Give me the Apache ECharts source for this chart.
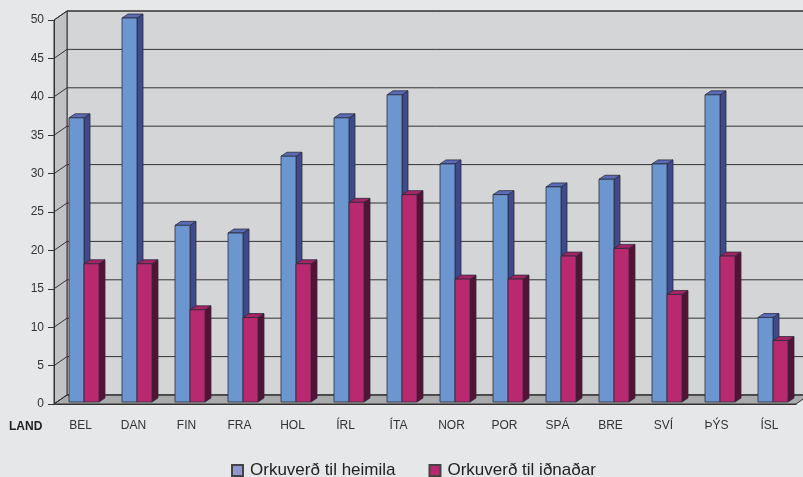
<!DOCTYPE html>
<html>
<head>
<meta charset="utf-8">
<script src="https://cdn.jsdelivr.net/npm/echarts@6/dist/echarts.min.js"></script>
<style>
  html, body { margin: 0; padding: 0; background: #e6e7e8; }
  #chart { width: 803px; height: 477px; }
</style>
</head>
<body>
<div id="chart"></div>
<script>
var categories = ['BEL', 'DAN', 'FIN', 'FRA', 'HOL', 'ÍRL', 'ÍTA', 'NOR', 'POR', 'SPÁ', 'BRE', 'SVÍ', 'ÞÝS', 'ÍSL'];
var heimila = [37, 50, 23, 22, 32, 37, 40, 31, 27, 28, 29, 31, 40, 11];
var idnadar = [18, 18, 12, 11, 18, 26, 27, 16, 16, 19, 20, 14, 19, 8];
var yMin = 0, yMax = 50, yStep = 5;

var FONT = '"Liberation Sans", Arial, sans-serif';
// 3d depth of the walls / bars
var WDX = 13, WDY = -9;
var BDX = 6, BDY = -4;

function renderWalls(params, api) {
    var cs = params.coordSys;
    var x0 = cs.x, x1 = cs.x + cs.width;
    var yTop = cs.y, yBot = cs.y + cs.height;
    var kids = [];
    // back wall
    kids.push({
        type: 'rect',
        shape: { x: x0 + WDX, y: yTop + WDY, width: cs.width, height: cs.height },
        style: { fill: '#d4d5d6', stroke: '#333', lineWidth: 1 }
    });
    // side wall
    kids.push({
        type: 'polygon',
        shape: { points: [[x0, yBot], [x0 + WDX, yBot + WDY], [x0 + WDX, yTop + WDY], [x0, yTop]] },
        style: { fill: '#c1c2c4', stroke: '#333', lineWidth: 1 }
    });
    // floor
    kids.push({
        type: 'polygon',
        shape: { points: [[x0, yBot], [x1, yBot], [x1 + WDX, yBot + WDY], [x0 + WDX, yBot + WDY]] },
        style: { fill: '#a9aaab', stroke: '#333', lineWidth: 1 }
    });
    // grid lines
    for (var v = yMin; v <= yMax; v += yStep) {
        var y = api.coord([0, v])[1];
        kids.push({
            type: 'polyline',
            shape: { points: [[x0, y], [x0 + WDX, y + WDY], [x1 + WDX, y + WDY]] },
            style: { fill: null, stroke: '#333', lineWidth: 1 }
        });
    }
    return { type: 'group', children: kids };
}

function barRenderer(offset, front, top, side) {
    return function (params, api) {
        var p = api.coord([api.value(0), api.value(1)]);
        var b = api.coord([api.value(0), 0]);
        var xa = p[0] + offset, xb = xa + 15;
        var yt = p[1] - 2, yb = b[1] - 2;
        var edge = { stroke: '#2b2b3a', lineWidth: 0.8 };
        return {
            type: 'group',
            children: [{
                type: 'polygon',
                shape: { points: [[xb, yb], [xb + BDX, yb + BDY], [xb + BDX, yt + BDY], [xb, yt]] },
                style: Object.assign({ fill: side }, edge)
            }, {
                type: 'polygon',
                shape: { points: [[xa, yt], [xb, yt], [xb + BDX, yt + BDY], [xa + BDX, yt + BDY]] },
                style: Object.assign({ fill: top }, edge)
            }, {
                type: 'rect',
                shape: { x: xa, y: yt, width: 15, height: yb - yt },
                style: Object.assign({ fill: front }, edge)
            }]
        };
    };
}

var chart = echarts.init(document.getElementById('chart'));
chart.setOption({
    backgroundColor: '#e6e7e8',
    animation: false,
    textStyle: { fontFamily: FONT },
    grid: { left: 54, right: 7, top: 20, bottom: 73 },
    legend: {
        left: 226,
        top: 457,
        padding: 5,
        itemWidth: 11,
        itemHeight: 11,
        itemGap: 33,
        icon: 'rect',
        textStyle: { fontSize: 17, color: '#222', fontFamily: FONT, padding: [0, 0, 0, 2] },
        data: ['Orkuverð til heimila', 'Orkuverð til iðnaðar']
    },
    xAxis: {
        type: 'category',
        data: categories,
        axisLine: { lineStyle: { color: '#333' } },
        axisTick: { length: 6, lineStyle: { color: '#333' } },
        axisLabel: { interval: 0, fontSize: 12, color: '#333', margin: 16 },
        splitLine: { show: false }
    },
    yAxis: {
        type: 'value',
        min: yMin,
        max: yMax,
        interval: yStep,
        axisLine: { show: true, lineStyle: { color: '#333' } },
        axisTick: { show: true, length: 6, lineStyle: { color: '#333' } },
        axisLabel: { fontSize: 12, color: '#333', margin: 10 },
        splitLine: { show: false }
    },
    graphic: [{
        type: 'text',
        left: 9,
        top: 421,
        style: { text: 'LAND', font: 'bold 12px ' + FONT, fill: '#222' }
    }],
    series: [{
        name: 'walls',
        type: 'custom',
        z: -1,
        silent: true,
        renderItem: renderWalls,
        data: [[0, 0]]
    }, {
        name: 'Orkuverð til heimila',
        type: 'custom',
        itemStyle: { color: '#8e97d2', borderColor: '#444', borderWidth: 1 },
        renderItem: barRenderer(-11.5, '#6b96d0', '#5a6cb8', '#3f4a8c'),
        data: heimila.map(function (v, i) { return [i, v]; })
    }, {
        name: 'Orkuverð til iðnaðar',
        type: 'custom',
        itemStyle: { color: '#b7286f', borderColor: '#444', borderWidth: 1 },
        renderItem: barRenderer(3.5, '#b8296f', '#a52466', '#561234'),
        data: idnadar.map(function (v, i) { return [i, v]; })
    }]
});
</script>
</body>
</html>
